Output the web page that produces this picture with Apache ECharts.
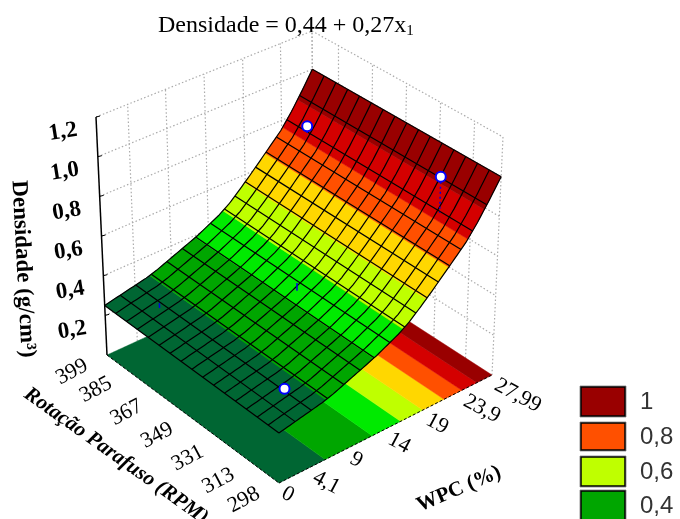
<!DOCTYPE html>
<html><head><meta charset="utf-8">
<style>html,body{margin:0;padding:0;background:#fff}#c{width:680px;height:519px}</style>
<script src="https://cdn.jsdelivr.net/npm/echarts@6/dist/echarts.min.js"></script>
</head><body><div id="c"></div>
<script>
// ---------- data ----------
const wpcTicks = [0, 4.1, 9, 14, 19, 23.9, 27.99];
const wpcTickLabels = ['0', '4,1', '9', '14', '19', '23,9', '27,99'];
const rotTicks = [298, 313, 331, 349, 367, 385, 399];
const zTicks = [0.2, 0.4, 0.6, 0.8, 1.0, 1.2];
const zTickLabels = ['0,2', '0,4', '0,6', '0,8', '1,0', '1,2'];
const surfaceByWpc = [0.25,0.261,0.272,0.283,0.294,0.31,0.331,0.352,0.373,0.395,0.422,0.449,0.485,0.533,0.584,0.638,0.693,0.749,0.823,0.908,1.0];
const meshRowsWpc = [0,2.1,4.2,6.3,8.4,10.5,12.3,14.3,16.2,17.6,19,20.4,21.8,23.2,24.6,26.3,27.99];
const meshColumns = 16;
const bandLevels = [0.3,0.39,0.463,0.558,0.665,0.76,0.871];
const bandColors = ['#006633','#00a600','#00ea00','#bfff00','#ffd700','#ff5000','#d40000','#990000'];
const pointsWpc = [23.9, 23.9, 4.1, 4.1, 14];
const pointsRot = [385, 313, 313, 385, 349];
const pointsZ = [0.85, 0.995, 0.30, 0.256, 0.39];
const pointsStemZ = [0.815, 0.813, 0.282, 0.28, 0.43];
const legendLabels = ['1','0,8','0,6','0,4'];
const legendColors = ['#990000','#ff5000','#bfff00','#00a600'];

// ---------- view: box of the 3D scale on the page ----------
const wpcMax = 27.99, rotMin = 298, rotMax = 399, zMax = 1.2;
const floorBox = {a:[279,483], b:[492,375], c:[314,260], d:[107,355]};   // (wpc0,rot298) (wpcMax,rot298) (wpcMax,rot399) (wpc0,rot399)
const topBox   = {a:[279,243], b:[503,137], c:[312,31],  d:[96,117]};
const SERIF = '"Liberation Serif"';

function bil(box,u,v,i){
  const lo = box.a[i]+(box.b[i]-box.a[i])*u, hi = box.d[i]+(box.c[i]-box.d[i])*u;
  return lo+(hi-lo)*v;
}
function project(wpc,rot,z){
  const u=wpc/wpcMax, v=(rot-rotMin)/(rotMax-rotMin), t=z/zMax;
  const fx=bil(floorBox,u,v,0), fy=bil(floorBox,u,v,1), tx=bil(topBox,u,v,0), ty=bil(topBox,u,v,1);
  return [fx+(tx-fx)*t, fy+(ty-fy)*t];
}
function surfaceZ(wpc){
  const p=wpc/wpcMax*(surfaceByWpc.length-1), i=Math.min(Math.floor(p),surfaceByWpc.length-2);
  return surfaceByWpc[i]+(surfaceByWpc[i+1]-surfaceByWpc[i])*(p-i);
}
function bandIndex(z){
  let i=0; while(i<bandLevels.length && z>=bandLevels[i]) i++;
  return i;
}
function rotAt(j,n){return rotMin+(rotMax-rotMin)*j/n;}

function P(api,wpc,rot,z){return api.coord(project(wpc,rot,z));}
function line(a,b,style){return {type:'line',shape:{x1:a[0],y1:a[1],x2:b[0],y2:b[1]},style:style};}
function label(at,dx,dy,text,deg,font,align){
  return {type:'text',x:at[0]+dx,y:at[1]+dy,rotation:deg*Math.PI/180,
    style:{text:text,font:font,fill:'#000',align:align||'center',verticalAlign:'middle'}};
}

function drawWalls(params,api){
  const s={stroke:'#ababab',lineWidth:1.2,lineDash:[1.5,2.2]}, out=[];
  zTicks.forEach(z=>{
    out.push(line(P(api,0,rotMax,z),P(api,wpcMax,rotMax,z),s));
    out.push(line(P(api,wpcMax,rotMax,z),P(api,wpcMax,rotMin,z),s));
  });
  wpcTicks.slice(1).forEach(w=>out.push(line(P(api,w,rotMax,0),P(api,w,rotMax,zMax),s)));
  rotTicks.forEach(r=>out.push(line(P(api,wpcMax,r,0),P(api,wpcMax,r,zMax),s)));
  return {type:'group',children:out};
}
// one polygon per colour band, following the surface values along WPC
function bands(api,onFloor){
  const steps=240, out=[];
  let start=0;
  for(let k=1;k<=steps;k++){
    const wMid=wpcMax*(k-0.5)/steps, wNext=wpcMax*(k+0.5)/steps;
    const b=bandIndex(surfaceZ(wMid));
    if(k===steps || bandIndex(surfaceZ(wNext))!==b){
      const a=[], c=[];
      for(let m=start;m<=k;m++){
        const w=wpcMax*m/steps, z=onFloor?0:surfaceZ(w);
        a.push(P(api,w,rotMin,z));
        c.unshift(P(api,w,rotMax,z));
      }
      out.push({type:'polygon',shape:{points:a.concat(c)},style:{fill:bandColors[b],stroke:bandColors[b],lineWidth:0.5}});
      start=k;
    }
  }
  return {type:'group',children:out};
}
function drawMesh(params,api){
  const s={stroke:'#000',lineWidth:1.2,fill:null}, out=[];
  meshRowsWpc.forEach(w=>{
    const z=surfaceZ(w);
    out.push({type:'polyline',shape:{points:[P(api,w,rotMin,z),P(api,w,rotMax,z)]},style:s});
  });
  for(let j=0;j<=meshColumns;j++){
    const r=rotAt(j,meshColumns), pts=[];
    for(let m=0;m<=80;m++){const w=wpcMax*m/80; pts.push(P(api,w,r,surfaceZ(w)));}
    out.push({type:'polyline',shape:{points:pts},style:s});
  }
  return {type:'group',children:out};
}
function drawAxes(params,api){
  const k={stroke:'#000',lineWidth:1.5}, t={stroke:'#000',lineWidth:1}, d={stroke:'#000',lineWidth:1,lineDash:[3,2]}, out=[];
  out.push(line(P(api,0,rotMax,0),P(api,0,rotMax,zMax),k));
  out.push(line(P(api,0,rotMax,0),P(api,0,rotMin,0),d));
  out.push(line(P(api,0,rotMin,0),P(api,wpcMax,rotMin,0),d));
  zTicks.forEach((z,i)=>{
    const a=P(api,0,rotMax,z);
    out.push(line(a,[a[0]+4,a[1]-1],t));
    out.push(label(a,-33,15,zTickLabels[i],9,'bold 23px '+SERIF));
  });
  rotTicks.forEach(r=>{
    out.push(label(P(api,0,r,0),-35,17,String(r),28,'22px '+SERIF));
  });
  wpcTicks.forEach((w,i)=>{
    out.push(label(P(api,w,rotMin,0),4,9,wpcTickLabels[i],-28,'22px '+SERIF,'left'));
  });
  out.push(label([23,269],0,0,'Densidade (g/cm³)',-87,'bold 23px '+SERIF));
  out.push(label([116,456],0,0,'Rotação Parafuso (RPM)',-35.4,'italic bold 21px '+SERIF));
  out.push(label([459,489],0,0,'WPC (%)',23,'bold 21px '+SERIF));
  return {type:'group',children:out};
}
function drawPoints(params,api){
  const out=[];
  pointsWpc.forEach((w,i)=>{
    const r=pointsRot[i], z=pointsZ[i], sz=pointsStemZ[i];
    out.push(line(P(api,w,r,z),P(api,w,r,sz),{stroke:'#0000e0',lineWidth:1.5,lineDash:z<sz?null:[2,3]}));
    if(z>=sz){
      const c=P(api,w,r,z);
      out.push({type:'circle',shape:{cx:c[0],cy:c[1],r:5},style:{fill:'#fff',stroke:'#0000ff',lineWidth:2}});
    }
  });
  return {type:'group',children:out};
}
function drawLegend(params,api){
  const tops=[387,423,457,491], heights=[29,27,29,29], out=[];
  legendLabels.forEach((t,i)=>{
    const a=api.coord([581,tops[i]]), b=api.coord([625,tops[i]+heights[i]]);
    out.push({type:'rect',shape:{x:a[0]-1,y:a[1]-1,width:b[0]-a[0]+2,height:b[1]-a[1]+2},style:{fill:'none',stroke:'#999',lineWidth:1}});
    out.push({type:'rect',shape:{x:a[0],y:a[1],width:b[0]-a[0],height:b[1]-a[1]},style:{fill:legendColors[i],stroke:'#000',lineWidth:1.5}});
    out.push({type:'text',x:b[0]+15,y:(a[1]+b[1])/2+1,style:{text:t,font:'24px "Liberation Sans"',fill:'#333',align:'left',verticalAlign:'middle'}});
  });
  return {type:'group',children:out};
}
const layer=(name,fn)=>({type:'custom',name:name,coordinateSystem:'cartesian2d',data:[[0,0]],clip:false,silent:true,renderItem:fn,animation:false});

const chart=echarts.init(document.getElementById('c'),null,{renderer:'canvas'});
chart.setOption({
  animation:false,
  backgroundColor:'#fff',
  title:{left:158,top:11,padding:0,text:'{a|Densidade = 0,44 + 0,27x}{b|1}',
    textStyle:{rich:{
      a:{fontFamily:SERIF,fontSize:24,color:'#000',fontWeight:'normal',lineHeight:30},
      b:{fontFamily:SERIF,fontSize:15,color:'#000',fontWeight:'normal',padding:[10,0,0,0],lineHeight:30}
    }}},
  grid:{left:0,right:0,top:0,bottom:0},
  xAxis:{type:'value',min:0,max:680,show:false},
  yAxis:{type:'value',min:0,max:519,inverse:true,show:false},
  series:[
    layer('Paredes',drawWalls),
    layer('Mapa',(p,a)=>bands(a,true)),
    layer('Superficie',(p,a)=>bands(a,false)),
    layer('Malha',drawMesh),
    layer('Eixos',drawAxes),
    layer('Pontos',drawPoints),
    layer('Legenda',drawLegend)
  ]
});
</script></body></html>
